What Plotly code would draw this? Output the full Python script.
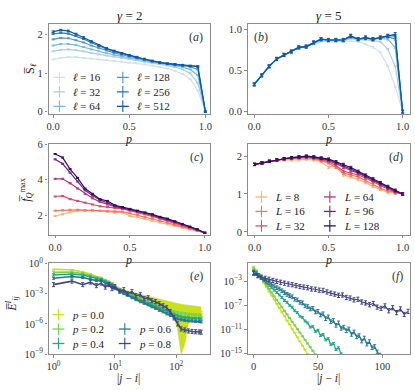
import numpy as np
import plotly.graph_objects as go

# ----------------------------- data ---------------------------------------#
p = [0.0, 0.05, 0.1, 0.15, 0.2, 0.25, 0.3, 0.35, 0.4, 0.45, 0.5,
     0.55, 0.6, 0.65, 0.7, 0.75, 0.8, 0.85, 0.9, 0.95, 1.0]

# (a) entanglement, gamma = 2
ell = [16, 32, 64, 128, 256, 512]
S2_16 = [1.36, 1.40, 1.42, 1.42, 1.40, 1.38, 1.36, 1.34, 1.32, 1.30, 1.28, 1.26, 1.23, 1.20, 1.16, 1.12, 1.06, 0.98, 0.85, 0.55, 0.0]
S2_32 = [1.57, 1.61, 1.62, 1.60, 1.57, 1.53, 1.49, 1.46, 1.43, 1.40, 1.37, 1.34, 1.30, 1.27, 1.24, 1.20, 1.16, 1.10, 1.00, 0.75, 0.0]
S2_64 = [1.72, 1.76, 1.76, 1.73, 1.68, 1.62, 1.57, 1.52, 1.48, 1.44, 1.41, 1.37, 1.33, 1.29, 1.26, 1.23, 1.20, 1.16, 1.10, 0.95, 0.0]
S2_128 = [1.88, 1.92, 1.91, 1.86, 1.80, 1.72, 1.65, 1.59, 1.53, 1.48, 1.44, 1.40, 1.35, 1.31, 1.27, 1.25, 1.22, 1.20, 1.17, 1.10, 0.0]
S2_256 = [2.02, 2.05, 2.03, 1.97, 1.89, 1.80, 1.71, 1.63, 1.57, 1.51, 1.46, 1.41, 1.36, 1.32, 1.28, 1.25, 1.23, 1.21, 1.19, 1.17, 0.0]
S2_512 = [2.08, 2.12, 2.10, 2.02, 1.93, 1.83, 1.73, 1.65, 1.58, 1.52, 1.47, 1.42, 1.37, 1.32, 1.28, 1.25, 1.23, 1.21, 1.19, 1.18, 0.0]
S_gamma2 = [S2_16, S2_32, S2_64, S2_128, S2_256, S2_512]
err_a = [0.01, 0.01, 0.012, 0.012, 0.015, 0.02]

# (b) entanglement, gamma = 5
S5_16 = [0.33, 0.44, 0.55, 0.63, 0.68, 0.72, 0.77, 0.78, 0.82, 0.85, 0.85, 0.85, 0.85, 0.86, 0.85, 0.82, 0.78, 0.72, 0.55, 0.30, 0.0]
S5_32 = [0.33, 0.44, 0.55, 0.63, 0.69, 0.73, 0.78, 0.79, 0.83, 0.86, 0.86, 0.86, 0.86, 0.89, 0.87, 0.87, 0.86, 0.85, 0.76, 0.55, 0.0]
S5_64 = [0.33, 0.44, 0.55, 0.64, 0.69, 0.73, 0.78, 0.79, 0.84, 0.87, 0.87, 0.87, 0.86, 0.90, 0.88, 0.89, 0.88, 0.89, 0.88, 0.78, 0.0]
S5_128 = [0.33, 0.44, 0.55, 0.64, 0.69, 0.73, 0.78, 0.79, 0.84, 0.88, 0.87, 0.87, 0.87, 0.91, 0.88, 0.89, 0.88, 0.90, 0.91, 0.88, 0.0]
S5_256 = [0.33, 0.44, 0.55, 0.64, 0.69, 0.73, 0.78, 0.79, 0.84, 0.88, 0.87, 0.87, 0.87, 0.92, 0.88, 0.90, 0.88, 0.90, 0.92, 0.92, 0.0]
S5_512 = [0.33, 0.44, 0.55, 0.64, 0.69, 0.73, 0.78, 0.79, 0.84, 0.88, 0.87, 0.87, 0.87, 0.92, 0.88, 0.90, 0.88, 0.90, 0.92, 0.94, 0.0]
S_gamma5 = [S5_16, S5_32, S5_64, S5_128, S5_256, S5_512]
err_b = [0.008, 0.008, 0.01, 0.012, 0.015, 0.02]

# (c) QFI density, gamma = 2
Lsizes = [8, 16, 32, 64, 96, 128]
F2_8 = [1.95, 2.05, 2.15, 2.25, 2.25, 2.25, 2.23, 2.20, 2.15, 2.15, 1.95, 1.88, 1.78, 1.68, 1.58, 1.48, 1.38, 1.28, 1.18, 1.10, 1.0]
F2_16 = [2.25, 2.27, 2.30, 2.30, 2.28, 2.27, 2.25, 2.22, 2.20, 2.20, 2.10, 2.00, 1.90, 1.80, 1.68, 1.57, 1.45, 1.35, 1.23, 1.12, 1.0]
F2_32 = [3.05, 3.08, 2.90, 2.80, 2.70, 2.60, 2.50, 2.45, 2.40, 2.35, 2.25, 2.15, 2.05, 1.92, 1.80, 1.68, 1.55, 1.42, 1.28, 1.15, 1.0]
F2_64 = [4.05, 4.05, 3.80, 3.50, 3.20, 2.95, 2.75, 2.60, 2.48, 2.38, 2.30, 2.20, 2.10, 1.98, 1.86, 1.74, 1.60, 1.46, 1.32, 1.17, 1.0]
F2_96 = [5.15, 4.90, 4.40, 3.90, 3.40, 3.10, 2.85, 2.70, 2.50, 2.40, 2.32, 2.22, 2.12, 2.00, 1.88, 1.77, 1.62, 1.48, 1.33, 1.18, 1.0]
F2_128 = [5.45, 5.25, 4.60, 4.10, 3.50, 3.20, 2.90, 2.80, 2.55, 2.45, 2.35, 2.25, 2.15, 2.05, 1.90, 1.80, 1.65, 1.50, 1.35, 1.20, 1.0]
F_gamma2 = [F2_8, F2_16, F2_32, F2_64, F2_96, F2_128]

# (d) QFI density, gamma = 5
F5_8 = [1.78, 1.82, 1.86, 1.88, 1.90, 1.90, 1.90, 1.92, 1.90, 1.85, 1.70, 1.75, 1.50, 1.45, 1.38, 1.30, 1.20, 1.12, 1.05, 1.02, 1.0]
F5_16 = [1.78, 1.82, 1.86, 1.89, 1.92, 1.93, 1.94, 1.95, 1.93, 1.88, 1.82, 1.70, 1.55, 1.50, 1.45, 1.35, 1.25, 1.15, 1.08, 1.03, 1.0]
F5_32 = [1.78, 1.82, 1.86, 1.90, 1.93, 1.95, 1.96, 1.97, 1.95, 1.90, 1.85, 1.75, 1.60, 1.55, 1.50, 1.42, 1.32, 1.22, 1.13, 1.05, 1.0]
F5_64 = [1.78, 1.82, 1.86, 1.90, 1.93, 1.95, 1.97, 1.98, 1.96, 1.93, 1.88, 1.80, 1.70, 1.62, 1.55, 1.45, 1.35, 1.25, 1.15, 1.07, 1.0]
F5_96 = [1.78, 1.82, 1.86, 1.90, 1.93, 1.95, 1.97, 1.99, 1.97, 1.94, 1.90, 1.83, 1.75, 1.67, 1.57, 1.47, 1.37, 1.27, 1.17, 1.08, 1.0]
F5_128 = [1.78, 1.82, 1.86, 1.90, 1.93, 1.96, 1.98, 2.00, 1.98, 1.95, 1.92, 1.85, 1.78, 1.70, 1.60, 1.50, 1.40, 1.30, 1.20, 1.10, 1.0]
F_gamma5 = [F5_8, F5_16, F5_32, F5_64, F5_96, F5_128]
err_cd = [0.03, 0.03, 0.03, 0.03, 0.03, 0.03]

# (e) correlator vs distance, gamma = 2 (log10 values)
p_vals = [0.0, 0.2, 0.4, 0.6, 0.8]
dist_e = [1, 2, 3, 4, 5, 6, 7, 8, 9, 10, 12, 14, 16, 19, 22, 26, 30, 35, 40, 46,
          53, 61, 70, 80, 92, 105, 120, 138, 158, 181, 207, 237, 256]
logE2_p0 = [-0.58, -0.62, -0.85, -1.05, -1.3, -1.4, -1.65, -1.8, -1.95, -2.2, -2.5, -2.7, -2.85, -3.05, -3.2, -3.4, -3.55,
            -3.7, -3.85, -3.95, -4.1, -4.2, -4.3, -4.4, -4.5, -4.6, -4.65, -4.7, -4.72, -4.75, -4.77, -4.78, -4.8]
logE2_p0_lo = [-0.58, -0.62, -0.85, -1.05, -1.3, -1.4, -1.65, -1.8, -1.95, -2.2, -2.55, -2.8, -3.0, -3.3, -3.5, -3.8, -4.0,
               -4.2, -4.4, -4.5, -4.7, -4.85, -5.0, -5.2, -5.4, -6.5, -9.0, -8.0, -6.0, -5.5, -5.4, -5.35, -5.3]
logE2_p0_hi = [-0.58, -0.62, -0.85, -1.05, -1.3, -1.4, -1.65, -1.8, -1.95, -2.2, -2.45, -2.6, -2.7, -2.8, -2.9, -3.05, -3.15,
               -3.25, -3.35, -3.45, -3.55, -3.65, -3.75, -3.85, -3.9, -4.0, -4.05, -4.1, -4.15, -4.2, -4.25, -4.28, -4.3]
logE2_p2 = [-0.88, -0.85, -1.0, -1.2, -1.4, -1.5, -1.7, -1.85, -2.0, -2.3, -2.6, -2.8, -2.95, -3.15, -3.3, -3.5, -3.65,
            -3.8, -3.95, -4.1, -4.25, -4.4, -4.55, -4.65, -4.8, -4.9, -4.95, -5.0, -5.05, -5.1, -5.1, -5.12, -5.15]
logE2_p4 = [-1.15, -1.05, -1.15, -1.35, -1.55, -1.6, -1.8, -1.95, -2.1, -2.4, -2.7, -2.9, -3.05, -3.3, -3.45, -3.65, -3.8,
            -3.95, -4.1, -4.25, -4.45, -4.6, -4.75, -4.9, -5.05, -5.2, -5.3, -5.35, -5.4, -5.45, -5.45, -5.47, -5.5]
logE2_p6 = [-1.47, -1.3, -1.4, -1.55, -1.7, -1.7, -1.95, -2.05, -2.2, -2.5, -2.8, -3.0, -3.15, -3.4, -3.6, -3.8, -3.95,
            -4.1, -4.3, -4.45, -4.65, -4.8, -5.0, -5.15, -5.35, -5.5, -5.6, -5.65, -5.7, -5.72, -5.75, -5.77, -5.8]
logE2_p8 = [-2.1, -1.75, -2.1, -1.85, -2.2, -1.95, -2.35, -2.1, -2.5, -2.3, -2.75, -2.6, -3.0, -2.8, -3.2, -3.1, -3.5,
            -3.4, -3.7, -3.8, -4.0, -4.2, -4.4, -4.8, -5.4, -6.0, -6.5, -6.6, -6.7, -6.75, -6.78, -6.8, -6.82]
logE_gamma2 = [logE2_p0, logE2_p2, logE2_p4, logE2_p6, logE2_p8]
err_e = [0.0, 0.12, 0.1, 0.1, 0.2]

# (f) same correlator, gamma = 5 (log10 values)
dist_f_p0 = [0, 2, 4, 6, 8, 10, 12, 14, 16, 18, 20, 22, 24, 26, 28, 30, 32, 34, 36, 38, 40, 42]
logE5_p0 = [-0.6, -1.2, -1.9, -2.6, -3.3, -4.0, -4.7, -5.4, -6.05, -6.75, -7.45, -8.1, -8.8, -9.5, -10.2, -10.9,
            -11.55, -12.25, -12.95, -13.65, -14.35, -15.05]
dist_f_p2 = [0, 2, 4, 6, 8, 10, 12, 14, 16, 18, 20, 22, 24, 26, 28, 30, 32, 34, 36, 38, 40, 42, 44, 46, 48]
logE5_p2 = [-0.9, -1.3, -1.9, -2.5, -3.1, -3.7, -4.3, -4.9, -5.5, -6.1, -6.7, -7.3, -7.9, -8.5, -9.1, -9.7, -10.3,
            -10.9, -11.5, -12.1, -12.7, -13.3, -13.9, -14.5, -15.1]
dist_f_p4 = [0, 2, 4, 6, 8, 10, 12, 14, 16, 18, 20, 22, 24, 26, 28, 30, 32, 34, 36, 38, 40, 42, 44, 46, 48, 50,
             52, 54, 56, 58, 60, 62, 64, 66, 68, 70]
logE5_p4 = [-1.3, -1.6, -2.0, -2.4, -2.8, -3.3, -3.7, -4.1, -4.5, -4.9, -5.3, -5.7, -6.2, -6.5, -7.0, -7.3, -7.9,
            -8.2, -8.8, -9.0, -9.6, -9.9, -10.6, -10.5, -11.3, -11.1, -12.0, -11.8, -12.7, -12.5, -13.5, -13.3,
            -14.3, -14.0, -15.0, -15.3]
dist_f_p6 = [0, 2, 4, 6, 8, 10, 12, 14, 16, 18, 20, 22, 24, 26, 28, 30, 32, 34, 36, 38, 40, 42, 44, 46, 48, 50,
             52, 54, 56, 58, 60, 62, 64, 66, 68, 70, 72, 74, 76, 78, 80, 82, 84, 86, 88, 90, 92, 94, 96, 98]
logE5_p6 = [-1.6, -1.8, -2.1, -2.4, -2.7, -3.0, -3.2, -3.5, -3.8, -4.1, -4.3, -4.6, -4.9, -5.2, -5.4, -5.6, -6.0,
            -6.1, -6.5, -6.6, -7.1, -7.2, -7.6, -7.5, -8.1, -8.0, -8.6, -8.4, -9.2, -8.9, -9.7, -9.5, -10.3, -9.9,
            -10.8, -10.6, -11.2, -10.9, -11.8, -11.4, -12.2, -12.0, -12.9, -12.4, -13.4, -13.0, -14.0, -13.8,
            -14.7, -15.2]
dist_f_p8 = [0, 3, 6, 9, 12, 15, 18, 21, 24, 27, 30, 33, 36, 39, 42, 45, 48, 51, 54, 57, 60, 63, 66, 69, 72,
             75, 78, 81, 84, 87, 90, 93, 96, 99, 102, 105, 108, 111, 114, 117, 120]
logE5_p8 = [-1.7, -2.1, -2.35, -2.55, -2.7, -2.9, -3.05, -3.2, -3.35, -3.5, -3.6, -3.75, -3.9, -4.0, -4.1, -4.3,
            -4.35, -4.5, -4.55, -4.8, -5.0, -5.15, -5.35, -5.3, -5.7, -5.8, -6.1, -6.0, -6.45, -6.6, -6.9, -6.7,
            -7.3, -7.5, -7.1, -7.9, -7.4, -8.2, -7.6, -8.5, -8.0]
dist_gamma5 = [dist_f_p0, dist_f_p2, dist_f_p4, dist_f_p6, dist_f_p8]
logE_gamma5 = [logE5_p0, logE5_p2, logE5_p4, logE5_p6, logE5_p8]
err_f = [0.05, 0.08, 0.15, 0.3, 0.35]

# ----------------------------- styles -------------------------------------#
blues = ['#d0e1f2', '#abd0e6', '#7fb9da', '#4a98c9', '#2878b8', '#0d57a1']
magma = ['#feb078', '#f8765c', '#de4968', '#b5367a', '#721f81', '#2c115f']
viridis = ['#c8e020', '#7ad151', '#22a884', '#2a788e', '#414487']
FONT = 'Liberation Serif'
GREY = '#8c8c8c'
W, H = 415, 390

fig = go.Figure()


def add_curves(xs, ys, colors, xa, ya, errs, width=1.2):
    for i, y in enumerate(ys):
        fig.add_trace(go.Scatter(
            x=xs, y=y, mode='lines', xaxis=xa, yaxis=ya,
            line=dict(color=colors[i], width=width),
            error_y=dict(type='constant', value=errs[i], color=colors[i], thickness=1, width=1.5),
            showlegend=False))


add_curves(p, S_gamma2, blues, 'x', 'y', err_a)      # (a)
add_curves(p, S_gamma5, blues, 'x2', 'y2', err_b)    # (b)
add_curves(p, F_gamma2, magma, 'x3', 'y3', err_cd)   # (c)
add_curves(p, F_gamma5, magma, 'x4', 'y4', err_cd)   # (d)

# (e)
xe = np.array(dist_e)
fig.add_trace(go.Scatter(x=xe, y=10 ** np.array(logE2_p0_hi), mode='lines', xaxis='x5', yaxis='y5',
                         line=dict(color=viridis[0], width=0.5), showlegend=False, hoverinfo='skip'))
fig.add_trace(go.Scatter(x=xe, y=10 ** np.array(logE2_p0_lo), mode='lines', xaxis='x5', yaxis='y5',
                         line=dict(color=viridis[0], width=0.5), fill='tonexty', fillcolor=viridis[0],
                         showlegend=False, hoverinfo='skip'))
for i, ly in enumerate(logE_gamma2):
    y = 10 ** np.array(ly)
    fig.add_trace(go.Scatter(
        x=xe, y=y, mode='lines', xaxis='x5', yaxis='y5',
        line=dict(color=viridis[i], width=1.6),
        error_y=dict(type='data', array=y * (10 ** err_e[i] - 1), arrayminus=y * (1 - 10 ** -err_e[i]),
                     color=viridis[i], thickness=1, width=1.5),
        showlegend=False))

# (f)
for i, ly in enumerate(logE_gamma5):
    y = 10 ** np.array(ly)
    fig.add_trace(go.Scatter(
        x=dist_gamma5[i], y=y, mode='lines', xaxis='x6', yaxis='y6',
        line=dict(color=viridis[i], width=1.2),
        error_y=dict(type='data', array=y * (10 ** err_f[i] - 1), arrayminus=y * (1 - 10 ** -err_f[i]),
                     color=viridis[i], thickness=1, width=1.5),
        showlegend=False))

# ----------------------------- layout -------------------------------------#


def xd(a, b):
    return [a / W, b / W]


def yd(top, bottom):
    return [1 - bottom / H, 1 - top / H]


ax_common = dict(showline=True, mirror=True, linecolor=GREY, linewidth=1.2, ticks='outside',
                 ticklen=2.5, tickcolor=GREY, showgrid=False, zeroline=False,
                 tickfont=dict(family=FONT, size=10.5, color='#333'))

left_x = xd(47, 210)
right_x = xd(248, 412)
row1 = yd(17, 110)
row2 = yd(141, 235)
row3 = yd(265, 359)

p_ticks = dict(tickvals=[0, 0.5, 1.0], ticktext=['0.0', '0.5', '1.0'])

fig.update_layout(
    width=W, height=H, margin=dict(l=0, r=0, t=0, b=0),
    paper_bgcolor='white', plot_bgcolor='white',
    font=dict(family=FONT, color='#222'),
    xaxis=dict(domain=left_x, anchor='y', range=[-0.03, 1.03], **p_ticks, **ax_common),
    yaxis=dict(domain=row1, anchor='x', range=[-0.06, 2.27], tickvals=[0, 1, 2], **ax_common),
    xaxis2=dict(domain=right_x, anchor='y2', range=[-0.045, 1.05], **p_ticks, **ax_common),
    yaxis2=dict(domain=row1, anchor='x2', range=[-0.03, 1.06], tickvals=[0, 0.5, 1.0],
                ticktext=['0.0', '0.5', '1.0'], **ax_common),
    xaxis3=dict(domain=left_x, anchor='y3', range=[-0.044, 1.035], **p_ticks, **ax_common),
    yaxis3=dict(domain=row2, anchor='x3', range=[0.9, 6.02], tickvals=[2, 4, 6], **ax_common),
    xaxis4=dict(domain=right_x, anchor='y4', range=[-0.047, 1.05], **p_ticks, **ax_common),
    yaxis4=dict(domain=row2, anchor='x4', range=[-0.07, 2.32], tickvals=[0, 1, 2], **ax_common),
    xaxis5=dict(domain=left_x, anchor='y5', type='log', range=[-0.08, 2.55], tickvals=[1, 10, 100],
                ticktext=['10<sup>0</sup>', '10<sup>1</sup>', '10<sup>2</sup>'], **ax_common),
    yaxis5=dict(domain=row3, anchor='x5', type='log', range=[-9, 0],
                tickvals=[1, 1e-3, 1e-6, 1e-9],
                ticktext=['10<sup>0</sup>', '10<sup>−3</sup>', '10<sup>−6</sup>', '10<sup>−9</sup>'],
                **ax_common),
    xaxis6=dict(domain=right_x, anchor='y6', range=[-4.6, 121.5], tickvals=[0, 50, 100], **ax_common),
    yaxis6=dict(domain=row3, anchor='x6', type='log', range=[-15.05, -0.1],
                tickvals=[1e-3, 1e-7, 1e-11, 1e-15],
                ticktext=['10<sup>−3</sup>', '10<sup>−7</sup>', '10<sup>−11</sup>', '10<sup>−15</sup>'],
                **ax_common),
)

ann = []
shapes = []


def text_at(txt, x_px, y_px, size=12, xanchor='center', angle=0, color='#222'):
    ann.append(dict(text=txt, xref='paper', yref='paper', x=x_px / W, y=1 - y_px / H,
                    xanchor=xanchor, yanchor='middle', showarrow=False, textangle=angle,
                    font=dict(family=FONT, size=size, color=color)))


# column titles
text_at('<i>γ</i> = 2', 129, 8, size=13)
text_at('<i>γ</i> = 5', 330, 8, size=13)

# axis titles
for xc in (128, 330):
    text_at('<i>p</i>', xc, 136)
    text_at('<i>p</i>', xc, 261)
    text_at('|<i>j</i> − <i>i</i>|', xc, 384, size=11.5)
text_at('S̅<sub><i>ℓ</i></sub>', 29, 63, angle=-90)
text_at('<i>f̅</i><sub><i>Q</i></sub><sup>max</sup>', 24, 188, angle=-90)
text_at('<i>E̅</i><sup><i>I</i></sup><sub><i>ij</i></sub>', 11, 307, angle=-90)

# panel labels
labels = [('x', 'y', '(<i>a</i>)', 0.97, 'right'), ('x2', 'y2', '(<i>b</i>)', 0.03, 'left'),
          ('x3', 'y3', '(<i>c</i>)', 0.97, 'right'), ('x4', 'y4', '(<i>d</i>)', 0.97, 'right'),
          ('x5', 'y5', '(<i>e</i>)', 0.97, 'right'), ('x6', 'y6', '(<i>f</i>)', 0.97, 'right')]
for xa, ya, txt, xx, anc in labels:
    ann.append(dict(text=txt, xref=xa + ' domain', yref=ya + ' domain', x=xx, y=0.96,
                    xanchor=anc, yanchor='top', showarrow=False, font=dict(family=FONT, size=12, color='#333')))


# legends: error-bar style key ("+") followed by the label
def legend_entry(key_x, y, color, label):
    shapes.append(dict(type='line', xref='paper', yref='paper', x0=(key_x - 6) / W, x1=(key_x + 6) / W,
                       y0=1 - y / H, y1=1 - y / H, line=dict(color=color, width=1.3)))
    shapes.append(dict(type='line', xref='paper', yref='paper', x0=key_x / W, x1=key_x / W,
                       y0=1 - (y - 6) / H, y1=1 - (y + 6) / H, line=dict(color=color, width=1.1)))
    text_at(label, key_x + 12, y, size=11, xanchor='left')


rows_a = [72, 87, 102]
for i, l in enumerate(ell):
    legend_entry(58 if i < 3 else 122, rows_a[i % 3], blues[i], '<i>ℓ</i> = %d' % l)
rows_d = [196, 211, 226]
for i, l in enumerate(Lsizes):
    legend_entry(262 if i < 3 else 331, rows_d[i % 3], magma[i], '<i>L</i> = %d' % l)
rows_e = [318, 333, 348]
for i, pv in enumerate(p_vals):
    legend_entry(57 if i < 3 else 124, rows_e[i] if i < 3 else rows_e[i - 2], viridis[i],
                 '<i>p</i> = %.1f' % pv)

fig.update_layout(annotations=ann, shapes=shapes)

fig.write_html("out.html", config={'displayModeBar': False},
               post_script="document.body.style.margin='0';")
